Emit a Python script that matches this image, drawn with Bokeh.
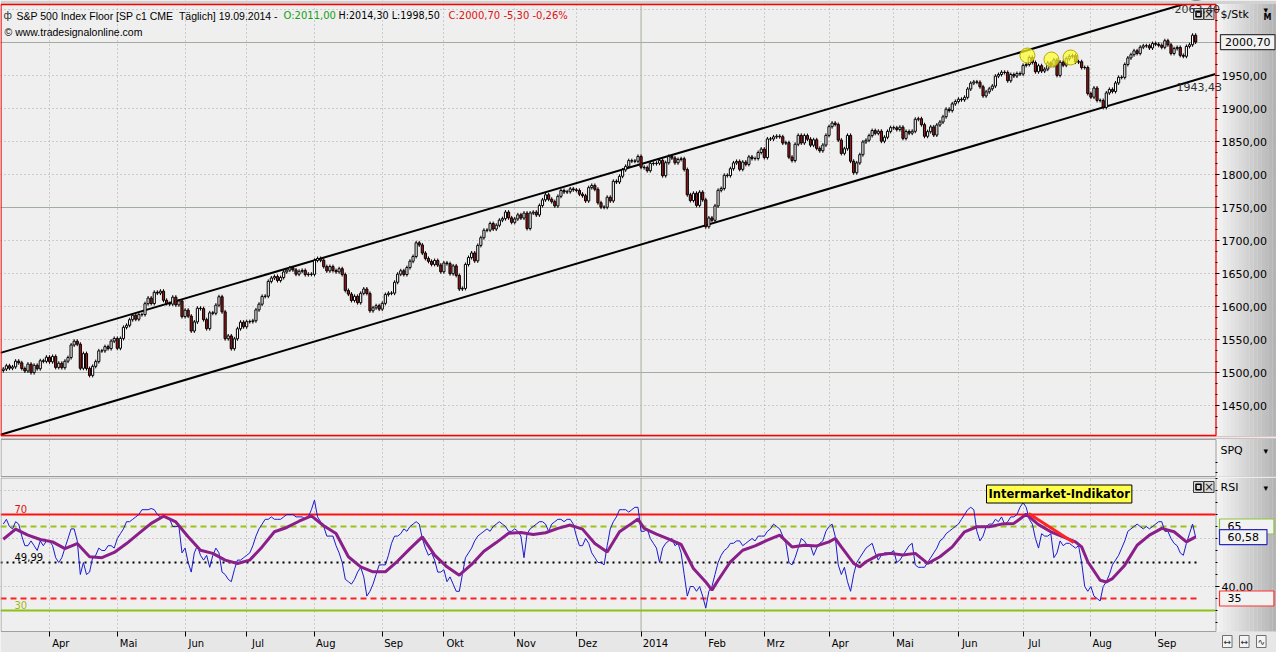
import numpy as np
from bokeh.plotting import figure
from bokeh.layouts import column
from bokeh.models import Range1d, LinearAxis, FixedTicker, Label, Grid
from bokeh.core.properties import value
from bokeh.embed import file_html
from bokeh.resources import INLINE

# ---------------------------------------------------------------- data
MONTH_LABELS = ["Apr", "Mai", "Jun", "Jul", "Aug", "Sep", "Okt", "Nov", "Dez",
                "2014", "Feb", "Mrz", "Apr", "Mai", "Jun", "Jul", "Aug", "Sep"]
YEAR_LABEL = "2014"

# daily closes (chart units, back-adjusted future), one list per month
CLOSE_2013_03 = [1505.2, 1510.2, 1506.5, 1508.5, 1517.2, 1514.7, 1506.1, 1502.3, 1512.7, 1499.8, 1510.9, 1505.7, 1517.8, 1516.9, 1523.2]
CLOSE_2013_04 = [1516.2, 1524.3, 1507.7, 1514.0, 1507.3, 1517.1, 1522.6, 1541.7, 1547.4, 1542.9, 1506.4, 1528.6, 1506.0, 1495.6, 1509.3, 1516.5, 1532.8, 1532.8, 1539.2, 1536.2, 1547.6, 1551.6]
CLOSE_2013_05 = [1536.7, 1551.6, 1568.4, 1571.5, 1580.0, 1586.7, 1580.7, 1587.7, 1587.8, 1604.3, 1612.8, 1604.5, 1621.5, 1620.3, 1623.2, 1609.4, 1604.5, 1603.6, 1614.1, 1602.4, 1608.4, 1584.7]
CLOSE_2013_06 = [1594.4, 1585.4, 1562.9, 1576.6, 1597.4, 1596.8, 1580.1, 1566.5, 1590.4, 1589.7, 1602.0, 1614.8, 1591.9, 1551.2, 1555.4, 1536.1, 1551.0, 1566.3, 1576.2, 1569.3]
CLOSE_2013_07 = [1577.1, 1577.1, 1578.4, 1594.9, 1603.5, 1615.3, 1615.6, 1638.0, 1643.2, 1645.5, 1639.3, 1643.9, 1652.4, 1655.1, 1658.5, 1655.4, 1648.9, 1653.3, 1654.7, 1648.3, 1649.0, 1648.7]
CLOSE_2013_08 = [1669.9, 1672.7, 1670.1, 1660.4, 1653.9, 1660.5, 1654.4, 1652.5, 1657.2, 1648.4, 1624.3, 1618.8, 1609.1, 1615.4, 1605.8, 1620.0, 1626.5, 1619.8, 1593.5, 1598.0, 1601.2, 1596.0]
CLOSE_2013_09 = [1604.8, 1618.1, 1620.1, 1620.2, 1636.7, 1649.0, 1654.1, 1648.4, 1659.0, 1668.6, 1675.8, 1696.5, 1693.3, 1680.9, 1672.8, 1668.4, 1663.8, 1669.7, 1662.8, 1652.6]
CLOSE_2013_10 = [1666.0, 1664.9, 1649.7, 1661.5, 1647.1, 1626.5, 1627.4, 1663.6, 1674.2, 1681.1, 1669.1, 1692.5, 1704.2, 1715.5, 1715.7, 1725.7, 1717.4, 1723.1, 1730.8, 1733.1, 1743.0, 1734.3, 1727.5]
CLOSE_2013_11 = [1732.6, 1738.9, 1734.0, 1741.5, 1718.2, 1741.6, 1742.9, 1738.7, 1753.0, 1761.6, 1769.2, 1762.5, 1758.9, 1752.4, 1766.9, 1775.8, 1773.5, 1773.8, 1778.2, 1776.8]
CLOSE_2013_12 = [1775.9, 1770.2, 1767.8, 1760.0, 1780.1, 1783.4, 1777.6, 1757.2, 1750.5, 1750.3, 1765.5, 1760.0, 1789.7, 1788.6, 1797.3, 1807.0, 1812.3, 1821.0, 1820.4, 1820.1, 1827.4]
CLOSE_2014_01 = [1811.0, 1810.4, 1805.8, 1816.9, 1816.5, 1817.1, 1821.4, 1798.2, 1817.9, 1827.4, 1824.9, 1817.7, 1822.8, 1823.9, 1807.5, 1769.3, 1760.6, 1771.5, 1753.2, 1773.2, 1761.6]
CLOSE_2014_02 = [1720.9, 1734.2, 1730.6, 1752.4, 1776.0, 1778.8, 1798.8, 1798.3, 1808.8, 1817.6, 1819.8, 1807.8, 1818.8, 1815.3, 1826.6, 1824.1, 1824.2, 1833.3, 1838.5]
CLOSE_2014_03 = [1825.7, 1853.9, 1853.8, 1857.0, 1858.0, 1857.2, 1847.6, 1848.2, 1826.3, 1821.1, 1845.8, 1859.3, 1847.8, 1859.0, 1853.5, 1844.4, 1852.6, 1839.6, 1836.0, 1844.6, 1859.3]
CLOSE_2014_04 = [1872.5, 1877.9, 1875.8, 1852.1, 1832.0, 1839.0, 1859.2, 1820.1, 1802.7, 1817.6, 1830.0, 1849.3, 1851.9, 1858.9, 1866.6, 1862.4, 1865.6, 1850.4, 1856.4, 1865.3, 1871.0]
CLOSE_2014_05 = [1870.7, 1868.1, 1871.7, 1854.7, 1865.2, 1862.6, 1865.5, 1883.7, 1884.5, 1875.5, 1857.9, 1864.9, 1872.1, 1859.8, 1875.0, 1879.5, 1887.5, 1898.9, 1896.8, 1907.0, 1910.6]
CLOSE_2014_06 = [1914.0, 1913.2, 1916.9, 1929.5, 1938.4, 1940.3, 1939.8, 1932.9, 1919.1, 1925.2, 1929.8, 1934.0, 1949.0, 1951.5, 1954.9, 1954.6, 1942.0, 1951.5, 1949.2, 1953.0, 1952.2]
CLOSE_2014_07 = [1965.3, 1966.6, 1977.4, 1969.7, 1955.7, 1964.8, 1956.7, 1959.6, 1969.1, 1965.3, 1973.6, 1950.1, 1970.2, 1965.6, 1975.5, 1979.0, 1980.0, 1970.3, 1970.9, 1962.0, 1962.1, 1922.7]
CLOSE_2014_08 = [1917.2, 1931.0, 1912.2, 1912.2, 1901.6, 1923.6, 1928.9, 1925.8, 1938.7, 1947.2, 1947.1, 1966.7, 1976.6, 1981.5, 1987.4, 1983.4, 1992.9, 1995.0, 1995.1, 1991.7, 1998.4]
CLOSE_2014_09 = [1997.3, 1995.7, 1992.7, 2002.7, 1996.5, 1983.4, 1990.7, 1992.5, 1980.5, 1979.1, 1994.0, 1996.6, 2011.0, 2000.7]
FIRST_OPEN = 1503.0
WICK = 3.0  # drawn wick extension beyond the body (points)

# RSI (blue), one list per month
RSI_2013_03 = [66, 68, 65, 64, 67, 66, 61, 57, 57, 59, 57, 55, 59, 57, 59]
RSI_2013_04 = [59, 57, 52, 50, 52, 56, 60, 64, 64, 59, 45, 50, 45, 46, 52, 53, 56, 55, 55, 57, 57, 56]
RSI_2013_05 = [60, 62, 64, 67, 67, 68, 69, 70, 72, 72, 72, 72.5, 72, 70, 69, 69, 69, 68, 65, 65, 65, 54]
RSI_2013_06 = [56, 50, 46, 54, 57, 53, 51, 53, 48, 53, 56, 54, 46, 45, 43, 42, 47, 51, 51, 52]
RSI_2013_07 = [53, 54, 57, 61, 64, 66, 68, 68, 69, 68, 68, 68, 69, 70, 70, 70, 69, 69, 69, 68, 69, 72]
RSI_2013_08 = [76, 69, 67, 65, 61, 61, 61, 57, 54, 50, 43, 42, 41, 43, 46, 48, 44, 36, 38, 41, 45, 49]
RSI_2013_09 = [49, 49, 53, 58, 61, 61, 62, 64, 63, 65, 66, 67, 66, 60, 56, 53, 54, 51, 46, 46]
RSI_2013_10 = [47, 42, 44, 41, 38, 38, 45, 52, 54, 56, 59, 61, 62, 63, 64, 63, 65, 66, 67, 66, 65, 63, 63]
RSI_2013_11 = [64, 63, 61, 52, 62, 64, 65, 66, 67, 67, 66, 63, 66, 67, 68, 68, 67, 68, 68, 66]
RSI_2013_12 = [61, 57, 57, 60, 58, 54, 52, 50, 50, 49, 57, 64, 67, 69, 72, 72, 72, 71, 72, 73, 73]
RSI_2014_01 = [63, 63, 64, 60, 58, 56, 50, 56, 58, 59, 60, 57, 58, 54, 45, 36, 40, 40, 38, 40, 36]
RSI_2014_02 = [31, 38, 40, 45, 50, 53, 55, 56, 58, 58, 59, 59, 57, 58, 59, 60, 59, 61, 61]
RSI_2014_03 = [61, 63, 64, 66, 65, 64, 61, 58, 50, 49, 52, 56, 60, 59, 57, 57, 53, 56, 58, 59, 63]
RSI_2014_04 = [65, 66, 61, 49, 45, 48, 42, 38, 45, 50, 52, 54, 56, 57, 58, 54, 51, 53, 54, 54, 54]
RSI_2014_05 = [55, 50, 51, 53, 55, 57, 58, 49, 48, 48, 48, 50, 52, 54, 56, 59, 60, 62, 63, 64, 65]
RSI_2014_06 = [66, 68, 70, 72, 73, 72, 63, 59, 61, 65, 66, 66, 68, 67, 69, 66, 67, 69, 69, 70, 73]
RSI_2014_07 = [75, 73, 68, 66, 60, 56, 62, 61, 61, 62, 52, 54, 59, 57, 58, 58, 57, 56, 57, 50, 40, 38]
RSI_2014_08 = [40, 36, 35, 34, 40, 42, 45, 49, 51, 53, 56, 59, 63, 64, 65, 66, 65, 64, 65, 64, 65]
RSI_2014_09 = [66, 67, 67, 63, 63, 60, 58, 57, 54, 53, 58, 62, 66, 60.58]

# smoothed RSI (purple), read as (trading day, value)
RSI_AVG = [(0, 59.7), (4, 63.9), (8, 61.4), (12, 59.6), (16, 58.6), (20, 55.8), (24, 57.9),
           (28, 52.4), (32, 52.0), (36, 54.2), (40, 57.9), (44, 62.1), (48, 66.3), (52, 69.3),
           (56, 66.9), (60, 60.7), (64, 55.1), (68, 53.8), (72, 51.0), (76, 49.6), (80, 51.0),
           (84, 56.5), (88, 62.8), (92, 64.6), (96, 67.2), (100, 69.4), (104, 65.3), (108, 62.1),
           (112, 52.4), (116, 48.2), (120, 46.1), (124, 46.1), (128, 50.6), (132, 55.8),
           (136, 60.7), (140, 53.1), (144, 48.2), (148, 44.7), (152, 49.2), (156, 54.7),
           (160, 58.3), (164, 62.2), (168, 62.5), (172, 61.7), (176, 62.4), (180, 64.2),
           (184, 65.6), (188, 63.9), (192, 57.9), (196, 54.4), (200, 62.8), (204, 66.3),
           (206, 68.1), (208, 64.2), (212, 61.8), (216, 59.7), (220, 57.5), (224, 47.5),
           (228, 41.9), (230, 38.5), (232, 42.6), (236, 50.3), (240, 55.1), (244, 56.9),
           (248, 59.3), (252, 61.4), (256, 56.5), (260, 57.2), (264, 56.9), (268, 58.6),
           (270, 60.0), (272, 56.5), (276, 49.6), (278, 48.2), (280, 50.3), (284, 53.1),
           (288, 53.8), (292, 53.1), (296, 53.8), (300, 49.6), (304, 52.4), (308, 56.5),
           (312, 62.8), (316, 64.9), (320, 64.9), (324, 66.0), (328, 66.3), (332, 70.1),
           (336, 65.8), (340, 62.8), (344, 60.7), (348, 58.6), (350, 56.5), (352, 50.3),
           (356, 42.6), (358, 41.9), (360, 43.3), (364, 48.9), (368, 57.2), (372, 61.4),
           (376, 64.2), (380, 62.8), (384, 58.6), (387, 60.7)]

CHANNEL_UPPER = [1531.0, 2063.4]     # value at first bar, at last bar
CHANNEL_LOWER = [1407.0, 1943.43]
HIGHLIGHT_DAYS = [332.4, 340.2, 346.4]
HIGHLIGHT_PRICES = [1980.3, 1974.2, 1977.3]
RSI_TREND_DAYS = [332.8, 347.4]
RSI_TREND_VALUES = [70.4, 58.3]
RSI_UPPER, RSI_SIGNAL_HI, RSI_MID, RSI_SIGNAL_LO, RSI_LOWER = 70, 65, 49.99, 35, 30
HEADER = ["S&P 500 Index Floor [SP c1 CME \u00a0T\u00e4glich] 19.09.2014 - ", "O:2011,00",
          "H:2014,30 L:1998,50", "C:2000,70 -5,30 -0,26%"]

# ---------------------------------------------------------------- derived
CLOSE_MONTHS = [CLOSE_2013_03, CLOSE_2013_04, CLOSE_2013_05, CLOSE_2013_06, CLOSE_2013_07,
                CLOSE_2013_08, CLOSE_2013_09, CLOSE_2013_10, CLOSE_2013_11, CLOSE_2013_12,
                CLOSE_2014_01, CLOSE_2014_02, CLOSE_2014_03, CLOSE_2014_04, CLOSE_2014_05,
                CLOSE_2014_06, CLOSE_2014_07, CLOSE_2014_08, CLOSE_2014_09]
RSI_MONTHS = [RSI_2013_03, RSI_2013_04, RSI_2013_05, RSI_2013_06, RSI_2013_07, RSI_2013_08,
              RSI_2013_09, RSI_2013_10, RSI_2013_11, RSI_2013_12, RSI_2014_01, RSI_2014_02,
              RSI_2014_03, RSI_2014_04, RSI_2014_05, RSI_2014_06, RSI_2014_07, RSI_2014_08,
              RSI_2014_09]
close = np.array([c for m in CLOSE_MONTHS for c in m], dtype=float)
N = len(close)
days = np.arange(N)
opn = np.concatenate([[FIRST_OPEN], close[:-1]])
high = np.maximum(opn, close) + WICK
low = np.minimum(opn, close) - WICK
up = close >= opn

month_starts = [int(v) for v in np.cumsum([len(m) for m in CLOSE_MONTHS])[:-1]]
year_start = month_starts[MONTH_LABELS.index(YEAR_LABEL)]
other_starts = [s for s in month_starts if s != year_start]

rsi = np.array([v for m in RSI_MONTHS for v in m], dtype=float)
rsi_days = np.arange(len(rsi))
avg_days = [d for d, v in RSI_AVG]
avg_vals = [v for d, v in RSI_AVG]

# ---------------------------------------------------------------- geometry / style
W = 1276
PX0, PXD = 2.8, 3.081        # pixel of day 0, pixels per day
PLOT_RIGHT = 1215            # right edge of the plotting area (pixels)
BG = "#efefef"
GRID_C = "#a8a8a8"
SOLID_C = "#a3ad9f"
FONT = "DejaVu Sans"
HFONT = "Liberation Sans"


def ix(px):      # pixel column -> trading-day coordinate
    return (px - PX0) / PXD


def ym(py):      # pixel row -> price (main panel)
    return 2000 - (py - 42) / 0.66


def yr(py):      # pixel row -> RSI value
    return 70 - (py - 514) / 2.4


def ys(py):      # pixel row -> SPQ panel (0..1)
    return (476 - py) / 37.0


X_START, X_END, X_FULL = ix(0), ix(PLOT_RIGHT), ix(W)


def shade(k, n, a=0xf4, b=0xb4):
    v = int(round(a + (b - a) * k / (n - 1)))
    return "#%02x%02x%02x" % (v, v, v)


def right_gradient(p, top, bottom):
    n = 16
    w = (X_FULL - X_END) / n
    p.quad(left=[X_END + k * w for k in range(n)], right=[X_END + (k + 1) * w + 0.02 for k in range(n)],
           top=top, bottom=bottom, fill_color=[shade(k, n) for k in range(n)], line_color=None)


def month_grid(p, top, bottom):
    p.add_layout(Grid(dimension=0, ticker=FixedTicker(ticks=other_starts),
                      grid_line_color=GRID_C, grid_line_dash="1 3", grid_line_width=1))
    p.segment(x0=[year_start], y0=[bottom], x1=[year_start], y1=[top], line_color=SOLID_C, line_width=1)


def hline(p, y, color, width=1, dash="solid", x1=None):
    p.line([X_START, X_END if x1 is None else x1], [y, y], line_color=color, line_width=width, line_dash=dash)


def border(p, top, bottom, color, width=1):
    xl, xr = ix(0.5), ix(PLOT_RIGHT + 0.5)
    p.line([xl, xr, xr, xl, xl], [top, top, bottom, bottom, top], line_color=color, line_width=width)


def buttons(p, top, bottom):
    l1, r1, l2, r2 = ix(1193), ix(1203), ix(1203.5), ix(1213.5)
    p.quad(left=[l1, l2], right=[r1, r2], top=top, bottom=bottom,
           fill_color="#d9d9d9", line_color="#3c3c3c", line_width=1)
    h = top - bottom
    p.quad(left=[ix(1195.5)], right=[ix(1200.5)], top=[top - 0.25 * h], bottom=[bottom + 0.25 * h],
           fill_color=None, line_color="black", line_width=1.5)
    p.text(x=[(l2 + r2) / 2], y=[(top + bottom) / 2], text=["\u00d7"], text_align="center",
           text_baseline="middle", text_font=value(FONT), text_font_size="12px", text_color="#222222")


def lab(p, x, y, text, size="11px", color="black", font=FONT, style="normal", align="left", **kw):
    p.add_layout(Label(x=x, y=y, text=text, text_font=font, text_font_size=size,
                       text_color=color, text_font_style=style, text_align=align,
                       text_baseline="middle", **kw))


def value_box(p, x, y, text, border_color):
    p.add_layout(Label(x=x, y=y, text=text, text_font=FONT, text_font_size="11px",
                       text_color="black", text_align="left", text_baseline="middle",
                       background_fill_color="#f2f2f2", border_line_color=border_color,
                       border_line_width=1.2, padding=1))


def base_fig(height, y_range):
    return figure(width=W, height=height, x_range=Range1d(X_START, X_FULL), y_range=y_range,
                  x_axis_type=None, y_axis_type=None, title=None, toolbar_location=None,
                  output_backend="svg", min_border_left=0, min_border_right=0, min_border_top=0,
                  min_border_bottom=0, background_fill_color=BG, border_fill_color=BG,
                  outline_line_color=None)


def right_axis(p, location, ticks, minor, overrides, labels=True):
    ax = LinearAxis(ticker=FixedTicker(ticks=ticks, minor_ticks=minor), fixed_location=location,
                    major_label_overrides=overrides, axis_line_color=None,
                    major_tick_in=0, major_tick_out=4, minor_tick_in=0, minor_tick_out=2,
                    major_tick_line_color="black", minor_tick_line_color="black",
                    major_label_standoff=2, major_label_text_font=FONT,
                    major_label_text_font_size="11px" if labels else "0px",
                    major_label_text_color="black")
    p.add_layout(ax, "right")


# ---------------------------------------------------------------- main panel (rows 0..437)
TOP1, BOT1 = ym(0), ym(437)
p1 = base_fig(437, Range1d(BOT1, TOP1))
p1.add_layout(Grid(dimension=1, ticker=FixedTicker(ticks=list(range(1450, 2051, 50))),
                   grid_line_color=GRID_C, grid_line_dash="1 3"))
month_grid(p1, ym(4), ym(435))
for lvl in (1500, 1750, 2000):
    hline(p1, lvl, SOLID_C)

# channel
slope_u = (CHANNEL_UPPER[1] - CHANNEL_UPPER[0]) / (N - 1)
slope_l = (CHANNEL_LOWER[1] - CHANNEL_LOWER[0]) / (N - 1)
xs = [X_START, X_END]
p1.line(xs, [CHANNEL_UPPER[0] + slope_u * x for x in xs], line_color="black", line_width=2)
p1.line(xs, [CHANNEL_LOWER[0] + slope_l * x for x in xs], line_color="black", line_width=2)

# candles
p1.segment(x0=days, y0=low, x1=days, y1=high, line_color="black", line_width=1)
p1.vbar(x=days[up], width=0.7, top=close[up], bottom=opn[up], fill_color="white",
        line_color="black", line_width=1)
p1.vbar(x=days[~up], width=0.7, top=opn[~up], bottom=close[~up], fill_color="#a01818",
        line_color="black", line_width=1)
p1.scatter(HIGHLIGHT_DAYS, HIGHLIGHT_PRICES, size=15, fill_color="#ffff2a", fill_alpha=0.7,
           line_color="#b9a800", line_width=1)

# frame pieces: top strip, bottom gap, right axis column, red border
p1.quad(left=[X_START], right=[X_FULL], top=[TOP1], bottom=[ym(3.5)], fill_color="#d2d2d2", line_color=None)
p1.quad(left=[X_START], right=[X_FULL], top=[ym(435.5)], bottom=[BOT1], fill_color="#cbcbcb", line_color=None)
right_gradient(p1, ym(3.5), ym(435.5))
p1.line([X_START, X_FULL], [ym(436.5), ym(436.5)], line_color="#f0b4b4", line_width=1)
border(p1, ym(4), ym(435), "#ff0000", 1.3)

right_axis(p1, X_END, list(range(1450, 2051, 50)),
           [1400 + 50 * k / 3 for k in range(0, 40)],
           {v: ("" if v >= 2000 else "%d,00" % v) for v in range(1450, 2051, 50)})

# texts
lab(p1, ix(3), ym(15), "\u0444", size="10px", color="#333333")
lab(p1, ix(16), ym(15), HEADER[0], size="10.5px", font=HFONT)
lab(p1, ix(283), ym(15), HEADER[1], size="10px", color="#12a012")
lab(p1, ix(338), ym(15), HEADER[2], size="9.6px")
lab(p1, ix(448), ym(15), HEADER[3], size="10px", color="#e01010")
lab(p1, ix(4), ym(31), "\u00a9 www.tradesignalonline.com", size="10.5px", font=HFONT)
lab(p1, ix(1176), ym(86), ("%.2f" % CHANNEL_LOWER[1]).replace(".", ","), color="#303030")
lab(p1, ix(1174), ym(8), ("%.2f" % CHANNEL_UPPER[1]).replace(".", ","), color="#303030")
buttons(p1, ym(8), ym(19))
lab(p1, ix(1220), ym(14), "$/Stk")
lab(p1, ix(1263), ym(9), "\u25be", size="9px")
lab(p1, ix(1263), ym(17), "M", size="8px", style="bold")
value_box(p1, ix(1220), close[-1], "\u00a0" + ("%.2f" % close[-1]).replace(".", ",") + "\u00a0", "#3a3a3a")

# ---------------------------------------------------------------- SPQ panel (rows 437..477)
TOP2, BOT2 = ys(437), ys(477)
p2 = base_fig(40, Range1d(BOT2, TOP2))
month_grid(p2, ys(439), ys(476))
p2.line([0, N - 1], [ys(438.2), ys(438.2)], line_color="#4a4a4a", line_width=1)
p2.quad(left=[X_START], right=[X_FULL], top=[TOP2], bottom=[ys(438.6)], fill_color="#c4c4c4", line_color=None)
p2.quad(left=[X_START], right=[X_FULL], top=[ys(476)], bottom=[BOT2], fill_color="#a9a9a9", line_color=None)
right_gradient(p2, ys(438.6), ys(476))
border(p2, ys(439), ys(476), "#9c9c9c")
right_axis(p2, X_END, [], [ys(462), ys(472)], {}, labels=False)
lab(p2, ix(1220), ys(450), "SPQ")
lab(p2, ix(1263), ys(450), "\u25be", size="9px")

# ---------------------------------------------------------------- RSI panel (rows 477..652)
TOP3, BOT3 = yr(477), yr(652)
p3 = base_fig(175, Range1d(BOT3, TOP3))
p3.add_layout(Grid(dimension=1, ticker=FixedTicker(ticks=[40, 60, 80]),
                   grid_line_color=GRID_C, grid_line_dash="1 3"))
month_grid(p3, yr(477), yr(631))

end_x = N - 1 + 0.5
hline(p3, RSI_UPPER, "#ff1010", 2)
hline(p3, RSI_LOWER, "#8cc218", 2)
hline(p3, RSI_SIGNAL_HI, "#9cc21c", 2, "6 4", end_x)
hline(p3, RSI_MID, "black", 2, "2 4", end_x)
hline(p3, RSI_SIGNAL_LO, "#ff2020", 2, "6 4", end_x)

p3.line(rsi_days, rsi, line_color="#1a1ad0", line_width=1)
p3.line(avg_days, avg_vals, line_color="#8a1f8a", line_width=3)
p3.line(RSI_TREND_DAYS, RSI_TREND_VALUES, line_color="#ff2424", line_width=3)

# x-axis strip, right axis column, panel border
p3.quad(left=[X_START], right=[X_FULL], top=[yr(631)], bottom=[BOT3], fill_color="#e7e7e7", line_color=None)
right_gradient(p3, TOP3, yr(631))
border(p3, yr(477.5), yr(631), "#a0a0a0")

label_pos = [round(s + (2 + 3.1 * len(t)) / PXD, 2) for s, t in zip(month_starts, MONTH_LABELS)]
xax = LinearAxis(ticker=FixedTicker(ticks=label_pos, minor_ticks=month_starts),
                 fixed_location=yr(631),
                 major_label_overrides={pos: t for pos, t in zip(label_pos, MONTH_LABELS)},
                 axis_line_color=None, major_tick_in=0, major_tick_out=0,
                 minor_tick_in=0, minor_tick_out=5, minor_tick_line_color="black",
                 major_label_standoff=1, major_label_text_font=FONT,
                 major_label_text_font_size="10px", major_label_text_color="black")
p3.add_layout(xax, "below")
right_axis(p3, X_END, [40], list(range(25, 86, 5)), {40: "40,00"})

lab(p3, ix(14), yr(508), "%d" % RSI_UPPER, size="10px", color="#e01010")
lab(p3, ix(14), yr(556), ("%.2f" % RSI_MID).replace(".", ","), size="10px", color="black")
lab(p3, ix(14), yr(604), "%d" % RSI_LOWER, size="10px", color="#a6b414")
p3.add_layout(Label(x=ix(986), y=yr(493.5), text="Intermarket-Indikator", text_font=FONT,
                    text_font_size="11.5px", text_font_style="bold", text_color="black",
                    text_baseline="middle", background_fill_color="#ffff48",
                    border_line_color="black", border_line_width=1, padding=2))
buttons(p3, yr(481), yr(492))
lab(p3, ix(1220), yr(487), "RSI")
lab(p3, ix(1263), yr(487), "\u25be", size="9px")
value_box(p3, ix(1219), RSI_SIGNAL_HI, "\u00a0\u00a0%d" % RSI_SIGNAL_HI + "\u00a0" * 9, "#8cc63f")
value_box(p3, ix(1219), rsi[-1], "\u00a0\u00a0" + ("%.2f" % rsi[-1]).replace(".", ",") + "\u00a0" * 2, "#2a2ac0")
value_box(p3, ix(1219), RSI_SIGNAL_LO, "\u00a0\u00a0%d" % RSI_SIGNAL_LO + "\u00a0" * 9, "#ff3030")
for k, sym in enumerate(["\u2194", "\u2194", "\u223f"]):
    p3.add_layout(Label(x=ix(1222 + 17 * k), y=yr(641), text=sym, text_font=FONT,
                        text_font_size="9px", text_color="#303030", text_baseline="middle",
                        background_fill_color="#f4f4f4", border_line_color="#707070",
                        border_line_width=1, padding=1))

layout = column(p1, p2, p3, spacing=0)
open("out.html", "w").write(file_html(layout, INLINE))
